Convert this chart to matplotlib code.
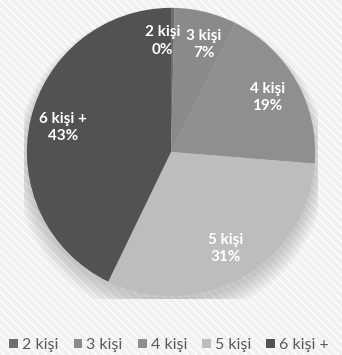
import numpy as np
import matplotlib.pyplot as plt
from matplotlib.patches import Circle, Patch

# household size shares (%)
categories = ["2 kişi", "3 kişi", "4 kişi", "5 kişi", "6 kişi +"]
values = [0.4, 7, 19, 31, 43]
pct_labels = ["0%", "7%", "19%", "31%", "43%"]
slice_colors = ["#6e6e6e", "#8a8a8a", "#8f8f8f", "#bdbdbd", "#525252"]

fig = plt.figure(figsize=(3.42, 3.55), dpi=100)
fig.patch.set_facecolor("#f4f4f4")

# hatched background
bg = fig.add_axes([0, 0, 1, 1])
bg.set_axis_off()
bg.add_patch(plt.Rectangle((0, 0), 1, 1, transform=bg.transAxes,
                           facecolor="#f1f1f1", edgecolor="white",
                           hatch="\\\\\\\\", linewidth=0))

ax = fig.add_axes([0.070, 0.158, 0.860, 0.828])
ax.set_aspect("equal")

# soft shadow below the pie
for i in range(8):
    ax.add_patch(Circle((0, -0.04 - 0.006 * i), 1.0 + 0.012 * i,
                        color="#000000", alpha=0.025, linewidth=0, zorder=0))

wedges, _ = ax.pie(values, colors=slice_colors, startangle=90,
                   counterclock=False, radius=1.0,
                   wedgeprops=dict(linewidth=0))
for w in wedges:
    w.set_zorder(2)

for w, name, pct in zip(wedges, categories, pct_labels):
    mid = np.deg2rad((w.theta1 + w.theta2) / 2)
    r = 0.77
    x, y = r * np.cos(mid), r * np.sin(mid)
    if name == "2 kişi":
        x -= 0.07
    elif name == "3 kişi":
        x += 0.04
    ax.text(x, y, f"{name}\n{pct}", ha="center", va="center",
            color="white", fontsize=11, fontweight="bold",
            family="Lato", linespacing=1.3, zorder=5)

ax.set_xlim(-1.02, 1.02)
ax.set_ylim(-1.02, 1.02)
ax.set_axis_off()

handles = [Patch(facecolor=c, edgecolor="none") for c in slice_colors]
fig.legend(handles, categories, loc="center left", bbox_to_anchor=(-0.015, 0.028),
           ncol=5, frameon=False, handlelength=0.55,
           handleheight=0.55, handletextpad=0.25, columnspacing=0.95,
           labelcolor="#5a5a5a", prop={"family": "Lato", "size": 11.5})

fig.savefig("out.png", dpi=100, facecolor=fig.get_facecolor())
